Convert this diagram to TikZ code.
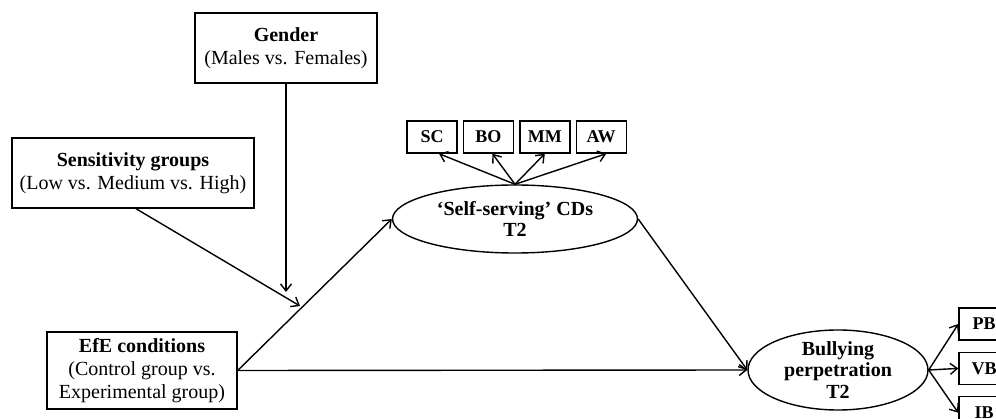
\documentclass[tikz,border=0pt]{standalone}
\usepackage{fontspec}
\setmainfont{Liberation Serif}
\usetikzlibrary{arrows.meta,positioning,shapes.geometric}
\tikzset{
  box/.style={draw, line width=1.4pt, align=center, inner sep=4pt,
              font=\fontsize{20}{23}\selectfont},
  ind/.style={draw, line width=1.4pt, minimum width=50pt, minimum height=32pt,
              inner sep=2pt, font=\fontsize{18}{21}\selectfont\bfseries},
  latent/.style={draw, ellipse, line width=1.4pt, align=center, inner sep=0pt,
                 font=\fontsize{20}{21.7}\selectfont\bfseries},
  edge/.style={-{Straight Barb[length=7pt,width=11pt]}, line width=1.4pt}
}

\begin{document}
\begin{tikzpicture}[x=1pt, y=-1pt, node distance=5pt]
  \useasboundingbox (0,0) rectangle (996,419);
  \clip (0,0) rectangle (996,419);

  % predictors and moderators
  \node[box, minimum width=182pt, minimum height=70pt] (gender) at (286,48)
    {\textbf{Gender}\\(Males vs. Females)};
  \node[box, minimum width=242pt, minimum height=70pt] (sens) at (133,173)
    {\textbf{Sensitivity groups}\\(Low vs. Medium vs. High)};
  \node[box, minimum width=190pt, minimum height=77pt] (efe) at (142,370.5)
    {\textbf{EfE conditions}\\(Control group vs.\\Experimental group)};

  % latent variables
  \node[latent, minimum width=245pt, minimum height=68pt] (self) at (515,219)
    {‘Self-serving’ CDs\\T2};
  \node[latent, inner ysep=-4pt, minimum width=180pt, minimum height=80pt] (bull) at (838,370)
    {Bullying\\perpetration\\T2};

  % indicators
  \node[ind] (sc) at (432,137) {SC};
  \node[ind, right=of sc] (bo) {BO};
  \node[ind, right=of bo] (mm) {MM};
  \node[ind, right=of mm] (aw) {AW};
  \node[ind] (pb) at (984,324) {PB};
  \node[ind, below=11pt of pb] (vb) {VB};
  \node[ind, below=11pt of vb] (ib) {IB};

  \coordinate (gmod) at (286,292);
  \coordinate (smod) at (300,306);

  \draw[edge] (gender) -- (gmod);
  \draw[edge] ([xshift=3pt]sens.south) -- (smod);
  \draw[edge] (efe.east) -- (self.west);
  \draw[edge] (efe.east) -- (bull.west);
  \draw[edge] (self.east) -- (bull.west);

  \draw[edge] (self.north) -- ([xshift=7pt]sc.south);
  \draw[edge] (self.north) -- ([xshift=4pt]bo.south);
  \draw[edge] (self.north) -- (mm.south);
  \draw[edge] (self.north) -- ([xshift=5pt]aw.south);

  \draw[edge] (bull.east) -- (pb.west);
  \draw[edge] (bull.east) -- (vb.west);
  \draw[edge] (bull.east) -- (ib.west);
\end{tikzpicture}
\end{document}
